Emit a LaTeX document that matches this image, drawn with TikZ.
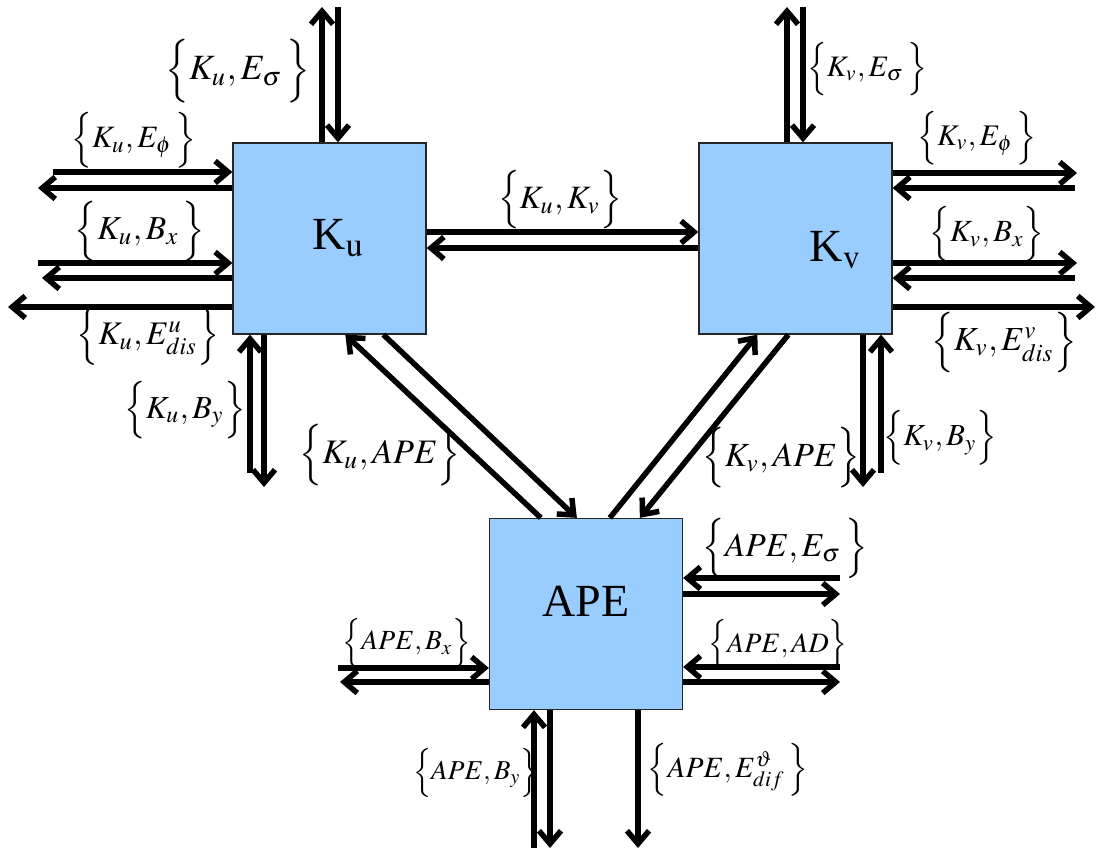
\documentclass[tikz,border=0pt]{standalone}
\usepackage{mathptmx}
\usepackage[no-math]{fontspec}
\setmainfont{Liberation Serif}
\usetikzlibrary{arrows.meta,calc}
\definecolor{boxblue}{RGB}{153,204,255}
\newcommand\lbl[2]{\resizebox{#1pt}{!}{$\Big\{#2\Big\}$}}
\tikzset{
  box/.style={draw=black!85, line width=1.3pt, fill=boxblue, minimum width=193pt, minimum height=191pt, inner sep=0pt},
  arr/.style={line width=5.5pt, -{Straight Barb[length=13pt,width=22pt]}},
  lab/.style={inner sep=0pt},
  boxtext/.style={inner sep=0pt, font=\fontsize{46}{50}\selectfont}
}
\begin{document}
\begin{tikzpicture}[x=1pt,y=-1pt]
\fill[white] (0,0) rectangle (1097,852);
\useasboundingbox (0,0) rectangle (1097,852);
% boxes
\node[box] (Ku) at (329.5,238.5) {};
\node[box] (Kv) at (795.5,238.5) {};
\node[box] (APE) at (586,614) {};
\node[boxtext] (tKu) at (338,238) {K$_{\mathrm{u}}$};
\node[boxtext] (tKv) at (835,250) {K$_{\mathrm{v}}$};
\node[boxtext] (tAPE) at (586,601) {APE};
% labels
\node[lab] (l1) at (238,71) {\lbl{145}{K_u, E_\sigma\,}};
\node[lab] (l2) at (134,140) {\lbl{125}{K_u, E_\phi\,}};
\node[lab] (l3) at (140,231) {\lbl{130}{K_u, B_x\,}};
\node[lab] (l4) at (148,336) {\lbl{143}{K_u, E^{u}_{dis}}};
\node[lab] (l5) at (185,410) {\lbl{121}{K_u, B_y}};
\node[lab] (l6) at (380,455) {\lbl{161}{K_u, APE}};
\node[lab] (l7) at (560,200) {\lbl{124}{K_u, K_v}};
\node[lab] (l8) at (867,69) {\lbl{120}{K_v, E_\sigma\,}};
\node[lab] (l9) at (977,138) {\lbl{119}{K_v, E_\phi\,}};
\node[lab] (l10) at (987,234) {\lbl{115}{K_v, B_x}};
\node[lab] (l11) at (1004,342) {\lbl{145}{K_v, E^{v}_{dis}}};
\node[lab] (l12) at (781,458) {\lbl{157}{K_v, APE}};
\node[lab] (l13) at (940,438) {\lbl{114}{K_v, B_y}};
\node[lab] (l14) at (785,548) {\lbl{165}{APE, E_\sigma\,}};
\node[lab] (l15) at (778,645) {\lbl{139}{APE, AD}};
\node[lab] (l16) at (407,643) {\lbl{128}{APE, B_x}};
\node[lab] (l17) at (476,773) {\lbl{126}{APE, B_y}};
\node[lab] (l18) at (728,770) {\lbl{160}{APE, E^{\vartheta}_{dif}\,}};
% free ends
\coordinate (a1) at (322,7);
\coordinate (a2) at (338,7);
\coordinate (a3) at (53,172);
\coordinate (a4) at (38,188);
\coordinate (a5) at (38,263);
\coordinate (a6) at (42,278);
\coordinate (a7) at (8,307);
\coordinate (a8) at (250,473);
\coordinate (a9) at (264,487);
\coordinate (b1) at (787,7);
\coordinate (b2) at (803,7);
\coordinate (b3) at (1077,173);
\coordinate (b4) at (1075,188);
\coordinate (b5) at (1077,263);
\coordinate (b6) at (1075,278);
\coordinate (b7) at (1095,307);
\coordinate (b8) at (863,487);
\coordinate (b9) at (881,473);
\coordinate (c1) at (840,578);
\coordinate (c2) at (840,594);
\coordinate (c3) at (840,667);
\coordinate (c4) at (840,682);
\coordinate (c5) at (338,668);
\coordinate (c6) at (340,682);
\coordinate (c7) at (534,848);
\coordinate (c8) at (550,848);
\coordinate (c9) at (638,848);
\coordinate (h1) at (0,232);
\coordinate (h2) at (0,248);
% Ku arrows
\draw[arr] (Ku.north -| a1) -- (a1);
\draw[arr] (a2) -- (Ku.north -| a2);
\draw[arr] (a3) -- (Ku.west |- a3);
\draw[arr] (Ku.west |- a4) -- (a4);
\draw[arr] (a5) -- (Ku.west |- a5);
\draw[arr] (Ku.west |- a6) -- (a6);
\draw[arr] (Ku.west |- a7) -- (a7);
\draw[arr] (a8) -- (Ku.south -| a8);
\draw[arr] (Ku.south -| a9) -- (a9);
% Ku <-> Kv
\draw[arr] (Ku.east |- h1) -- (Kv.west |- h1);
\draw[arr] (Kv.west |- h2) -- (Ku.east |- h2);
% Kv arrows
\draw[arr] (Kv.north -| b1) -- (b1);
\draw[arr] (b2) -- (Kv.north -| b2);
\draw[arr] (Kv.east |- b3) -- (b3);
\draw[arr] (b4) -- (Kv.east |- b4);
\draw[arr] (Kv.east |- b5) -- (b5);
\draw[arr] (b6) -- (Kv.east |- b6);
\draw[arr] (Kv.east |- b7) -- (b7);
\draw[arr] (Kv.south -| b8) -- (b8);
\draw[arr] (b9) -- (Kv.south -| b9);
% diagonals
\draw[arr] ($(APE.north west)+(52,0)$) -- ($(Ku.south west)+(113,0)$);
\draw[arr] ($(Ku.south west)+(151,0)$) -- ($(APE.north west)+(88,0)$);
\draw[arr] ($(APE.north west)+(121,0)$) -- ($(Kv.south west)+(59,0)$);
\draw[arr] ($(Kv.south west)+(90,0)$) -- ($(APE.north west)+(151,0)$);
% APE arrows
\draw[arr] (c1) -- (APE.east |- c1);
\draw[arr] (APE.east |- c2) -- (c2);
\draw[arr] (c3) -- (APE.east |- c3);
\draw[arr] (APE.east |- c4) -- (c4);
\draw[arr] (c5) -- (APE.west |- c5);
\draw[arr] (APE.west |- c6) -- (c6);
\draw[arr] (c7) -- (APE.south -| c7);
\draw[arr] (APE.south -| c8) -- (c8);
\draw[arr] (APE.south -| c9) -- (c9);
\end{tikzpicture}
\end{document}
